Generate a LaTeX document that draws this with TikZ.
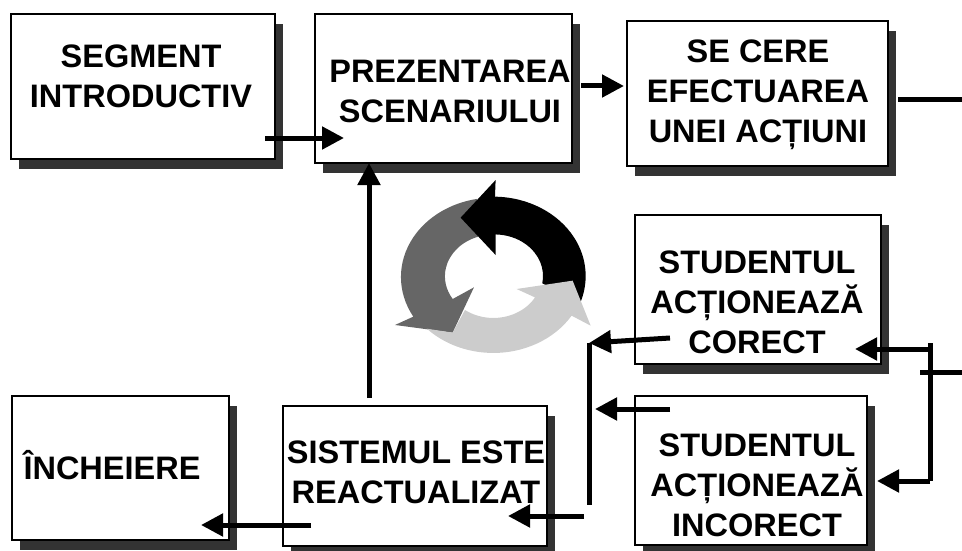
\documentclass[tikz,border=0pt]{standalone}
\usepackage{fontspec}
\setmainfont{Liberation Sans}
\usetikzlibrary{arrows.meta,shadows}
\definecolor{shadowgray}{HTML}{333333}
\definecolor{ringgray}{HTML}{666666}
\definecolor{ringlight}{HTML}{CCCCCC}
\begin{document}
\begin{tikzpicture}[x=1pt,y=-1pt,>={Triangle[length=22pt,width=22pt]}]
\tikzset{BoxStyle/.style = {draw,fill=white,line width=1.2pt,inner sep=0pt,
    copy shadow={shadow xshift=8pt,shadow yshift=-10pt,fill=shadowgray,draw=none}},
  TextStyle/.style = {font=\bfseries\fontsize{32.5}{40}\selectfont,align=center,inner sep=0pt},
  LineStyle/.style = {line width=5pt}}
\useasboundingbox (0,0) rectangle (962,551);
% boxes
\node[BoxStyle,minimum width=264pt,minimum height=145pt](intro) at (143,86.5) {};
\node[BoxStyle,minimum width=257pt,minimum height=149pt](prez) at (443.5,88.5) {};
\node[BoxStyle,minimum width=261pt,minimum height=145pt](cere) at (757.5,93.5) {};
\node[BoxStyle,minimum width=246pt,minimum height=149pt](corect) at (758,289.5) {};
\node[BoxStyle,minimum width=232pt,minimum height=149pt](incorect) at (751,470.5) {};
\node[BoxStyle,minimum width=264pt,minimum height=140pt](sistem) at (415,476) {};
\node[BoxStyle,minimum width=217pt,minimum height=144pt](final) at (120.5,468) {};
% ring of three arrows
\coordinate (ring) at (493.3,276);
\begin{scope}[shift={(ring)},x=0.3333pt,y=0.3333pt]
\fill[ringgray] (-45,118) arc[start angle=108,end angle=213,x radius=145,y radius=125]
  -- (-58,-34) -- (-122,-170) -- (-295,-147) -- (-240,-122)
  arc[start angle=210,end angle=100,x radius=277,y radius=238] -- cycle;
\fill[black] (5,238) arc[start angle=89,end angle=-20,x radius=277,y radius=238]
  -- (147,-22) arc[start angle=-10,end angle=89,x radius=145,y radius=125]
  -- (7,63) -- (-98,175) -- (7,288) -- cycle;
\fill[ringlight] (235,-119) arc[start angle=-32,end angle=-136,x radius=277,y radius=238]
  -- (-122,-170) -- (-85,-102) arc[start angle=-126,end angle=-30.5,x radius=145,y radius=125]
  -- (70,-39) -- (238,-14) -- (292,-149) -- cycle;
\end{scope}
% connector ends
\coordinate (introout) at (265,138); \coordinate (prezin) at (344,138);
\coordinate (prezout) at (581,86); \coordinate (cerein) at (624,86);
\coordinate (cereout) at (898,100); \coordinate (cereend) at (962,100);
\coordinate (sistemup) at (369,398); \coordinate (prezdown) at (369,163);
\coordinate (corectout) at (670,338); \coordinate (joinup) at (589,343);
\coordinate (joindown) at (589,505);
\coordinate (incorectout) at (670,409); \coordinate (joinin) at (595,409);
\coordinate (sistemin) at (508,516); \coordinate (joinout) at (584,516);
\coordinate (sistemout) at (311,525); \coordinate (finalin) at (201,525);
\coordinate (corectin) at (855,349); \coordinate (forktop) at (930,349);
\coordinate (forktip) at (930,343); \coordinate (forkend) at (930,481);
\coordinate (incorectin) at (877,481);
\coordinate (crossin) at (920,372); \coordinate (crossout) at (962,372);
% connectors
\draw[->,LineStyle] (introout) -- (prezin);
\draw[->,LineStyle] (prezout) -- (cerein);
\draw[LineStyle] (cereout) -- (cereend);
\draw[->,LineStyle] (sistemup) -- (prezdown);
\draw[->,LineStyle] (corectout) -- (joinup);
\draw[LineStyle] (joinup) -- (joindown);
\draw[->,LineStyle] (incorectout) -- (joinin);
\draw[->,LineStyle] (joinout) -- (sistemin);
\draw[->,LineStyle] (sistemout) -- (finalin);
\draw[->,LineStyle] (forktop) -- (corectin);
\draw[LineStyle] (forktip) -- (forkend);
\draw[->,LineStyle] (forkend) -- (incorectin);
\draw[LineStyle] (crossin) -- (crossout);
% texts
\node[TextStyle](introtext) at (141,76) {SEGMENT\\INTRODUCTIV};
\node[TextStyle](preztext) at (450,91) {PREZENTAREA\\SCENARIULUI};
\node[TextStyle](ceretext) at (758,95) {SE CERE\\EFECTUAREA\\UNEI ACȚIUNI};
\node[TextStyle](corecttext) at (757,302) {STUDENTUL\\ACȚIONEAZĂ\\CORECT};
\node[TextStyle](incorecttext) at (757,485) {STUDENTUL\\ACȚIONEAZĂ\\INCORECT};
\node[TextStyle](sistemtext) at (416,472) {SISTEMUL ESTE\\REACTUALIZAT};
\node[TextStyle](finaltext) at (112,465) {ÎNCHEIERE};
\end{tikzpicture}
\end{document}
